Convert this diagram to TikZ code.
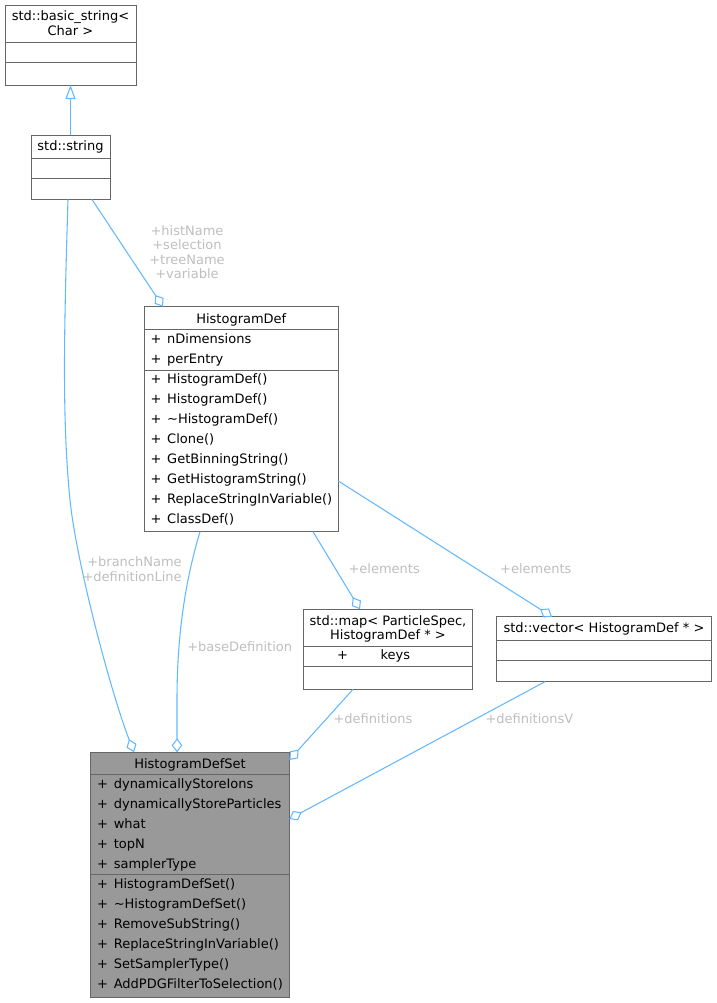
\documentclass[tikz,border=0pt]{standalone}
\usepackage{fontspec}
\setmainfont{DejaVu Sans}
\usetikzlibrary{arrows.meta,fit}
\definecolor{edgec}{HTML}{63B8FF}
\definecolor{boxc}{HTML}{666666}
\definecolor{labc}{HTML}{BEBEBE}
\definecolor{mainfill}{HTML}{999999}
\newcommand\mem[4]{%
  \node[txt, anchor=base west] (#1p) at (#2,#3) {+};
  \node[txt, anchor=base west] (#1) at (#2+16.7,#3) {#4};}
\begin{document}
\begin{tikzpicture}[x=0.75pt,y=-0.75pt,
  every node/.style={font=\fontsize{9.75}{11}\selectfont, inner sep=0pt, outer sep=0pt},
  txt/.style={text=black, anchor=base},
  lab/.style={text=labc, anchor=base},
  cls/.style={draw=boxc, line width=0.75pt, fill=white, inner sep=0pt, fit={#1}},
  clsmain/.style={draw=boxc, line width=0.75pt, fill=mainfill, inner sep=0pt, fit={#1}},
  divider/.style={draw=boxc, line width=0.75pt},
  agg/.style={draw=edgec, line width=0.8pt, -{Diamond[open,length=10.5pt,width=8pt]}},
  inh/.style={draw=edgec, line width=0.8pt, -{Triangle[open,length=10.5pt,width=7.5pt]}}
]
\useasboundingbox (0,0) rectangle (717,1003);

% ---- std::basic_string<Char>
\node[cls={(5,5)(136,85)}] (bs) {};
\draw[divider] (bs.west |- 0,42.7) -- (bs.east |- 0,42.7);
\draw[divider] (bs.west |- 0,62.7) -- (bs.east |- 0,62.7);
\node[txt] (bst1) at (70.5,20.7) {std::basic\_string<};
\node[txt] (bst2) at (70.5,35.5) {Char >};

% ---- std::string
\node[cls={(31,135)(110,199.5)}] (str) {};
\draw[divider] (str.west |- 0,158.3) -- (str.east |- 0,158.3);
\draw[divider] (str.west |- 0,178.3) -- (str.east |- 0,178.3);
\node[txt] (strt) at (70.5,150.7) {std::string};

% ---- HistogramDef
\node[cls={(144.3,306.7)(338.3,531.7)}] (hd) {};
\draw[divider] (hd.west |- 0,329.3) -- (hd.east |- 0,329.3);
\draw[divider] (hd.west |- 0,370) -- (hd.east |- 0,370);
\node[txt] (hdt) at (241.3,323.3) {HistogramDef};
\mem{hda1}{150.5}{343.5}{nDimensions}
\mem{hda2}{150.5}{363.5}{perEntry}
\mem{hdm1}{150.5}{383.5}{HistogramDef()}
\mem{hdm2}{150.5}{403.5}{HistogramDef()}
\mem{hdm3}{150.5}{423.5}{\textasciitilde HistogramDef()}
\mem{hdm4}{150.5}{443.5}{Clone()}
\mem{hdm5}{150.5}{463.5}{GetBinningString()}
\mem{hdm6}{150.5}{483.5}{GetHistogramString()}
\mem{hdm7}{150.5}{503.5}{ReplaceStringInVariable()}
\mem{hdm8}{150.5}{523.5}{ClassDef()}

% ---- std::map
\node[cls={(303.3,609.3)(472.7,689.3)}] (map) {};
\draw[divider] (map.west |- 0,646.7) -- (map.east |- 0,646.7);
\draw[divider] (map.west |- 0,666) -- (map.east |- 0,666);
\node[txt] (mapt1) at (388,625.5) {std::map< ParticleSpec,};
\node[txt] (mapt2) at (388,639.3) {HistogramDef * >};
\node[txt, anchor=base west] (mapkp) at (337.1,659.3) {+};
\node[txt, anchor=base west] (mapk) at (380.5,659.3) {keys};

% ---- std::vector
\node[cls={(496.7,616.7)(711,681.7)}] (vec) {};
\draw[divider] (vec.west |- 0,640) -- (vec.east |- 0,640);
\draw[divider] (vec.west |- 0,660) -- (vec.east |- 0,660);
\node[txt] (vect) at (604,632.3) {std::vector< HistogramDef * >};

% ---- HistogramDefSet
\node[clsmain={(90.7,752.3)(289.3,997.3)}] (hds) {};
\draw[divider] (hds.west |- 0,774.3) -- (hds.east |- 0,774.3);
\draw[divider] (hds.west |- 0,874.7) -- (hds.east |- 0,874.7);
\node[txt] (hdst) at (190,768.3) {HistogramDefSet};
\mem{hdsa1}{97.1}{788.3}{dynamicallyStoreIons}
\mem{hdsa2}{97.1}{808.3}{dynamicallyStoreParticles}
\mem{hdsa3}{97.1}{828.3}{what}
\mem{hdsa4}{97.1}{848.3}{topN}
\mem{hdsa5}{97.1}{868.3}{samplerType}
\mem{hdsm1}{97.1}{888}{HistogramDefSet()}
\mem{hdsm2}{97.1}{908}{\textasciitilde HistogramDefSet()}
\mem{hdsm3}{97.1}{928}{RemoveSubString()}
\mem{hdsm4}{97.1}{948}{ReplaceStringInVariable()}
\mem{hdsm5}{97.1}{968}{SetSamplerType()}
\mem{hdsm6}{97.1}{988}{AddPDGFilterToSelection()}

% ---- connectors
\draw[inh] (str.north) -- (bs.south);
\draw[agg] (str.south -| 92,0) -- (hd.north -| 163,0);
\draw[agg] (str.south -| 68,0) .. controls (64,330) and (62,420) .. (70,500)
  .. controls (76,560) and (110,690) .. (hds.north -| 134,0);
\draw[agg] (hd.south -| 200,0) .. controls (184,585) and (177,640) .. (177,700) -- (hds.north -| 177,0);
\draw[agg] (hd.south -| 313,0) -- (map.north -| 360,0);
\draw[agg] (hd.east |- 0,481) -- (vec.north -| 552,0);
\draw[agg] (map.south -| 353,0) -- (hds.east |- 0,760);
\draw[agg] (vec.south -| 545,0) -- (hds.east |- 0,819);

% ---- labels
\node[lab] (l1a) at (187,235) {+histName};
\node[lab] (l1b) at (187,249.5) {+selection};
\node[lab] (l1c) at (187,264) {+treeName};
\node[lab] (l1d) at (187,278.3) {+variable};
\node[lab, anchor=base east] (l2a) at (181.7,566.7) {+branchName};
\node[lab, anchor=base east] (l2b) at (181.7,581) {+definitionLine};
\node[lab] (l3) at (239.7,651.7) {+baseDefinition};
\node[lab] (l4) at (384.2,573.3) {+elements};
\node[lab] (l5) at (535.8,573.3) {+elements};
\node[lab] (l6) at (373,723.3) {+definitions};
\node[lab] (l7) at (529.4,723.3) {+definitionsV};
\end{tikzpicture}
\end{document}
